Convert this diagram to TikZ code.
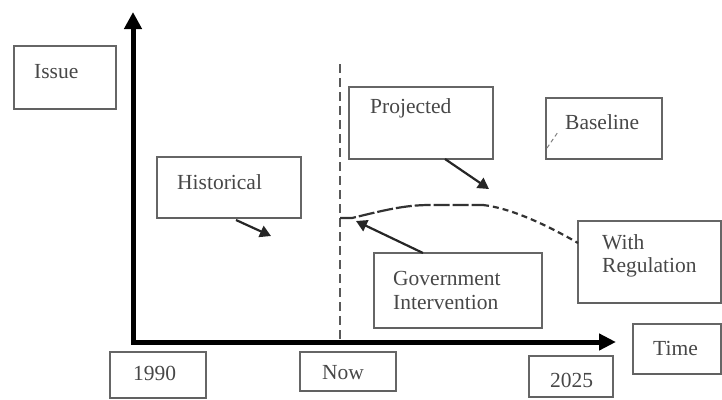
\documentclass[tikz,border=0pt]{standalone}
\usepackage{fontspec}
\setmainfont{Liberation Serif}
\usetikzlibrary{arrows.meta}
\begin{document}
\begin{tikzpicture}[x=1pt,y=-1pt,
  box/.style={draw=black!60, line width=1.3pt, inner sep=0pt, outer sep=0pt, anchor=north west},
  lbl/.style={anchor=west, inner sep=0pt, text=black!72, font=\fontsize{21.5}{25}\selectfont},
  axis/.style={line width=5pt, line join=miter, black},
  ptr/.style={line width=2.2pt, black!85, -{Triangle[length=11pt,width=12pt]}},
  curvelong/.style={line width=2.2pt, black!80, dash pattern=on 16pt off 3pt},
  curveshort/.style={line width=2.2pt, black!80, dash pattern=on 6pt off 4pt}]
\useasboundingbox (0,0) rectangle (722,399);
% boxes
\node[box, minimum width=102pt, minimum height=63pt] (issue) at (14,46) {};
\node[box, minimum width=144pt, minimum height=61pt] (hist) at (157,157) {};
\node[box, minimum width=144pt, minimum height=72pt] (proj) at (349,87) {};
\node[box, minimum width=116pt, minimum height=61pt] (base) at (546,98) {};
\node[box, minimum width=143pt, minimum height=82pt] (wreg) at (578,221) {};
\node[box, minimum width=168pt, minimum height=75pt] (gov) at (374,253) {};
\node[box, minimum width=88pt, minimum height=50pt] (time) at (633,324) {};
\node[box, minimum width=96pt, minimum height=46pt] (ya) at (110,352) {};
\node[box, minimum width=96pt, minimum height=39pt] (now) at (300,352) {};
\node[box, minimum width=84pt, minimum height=41pt] (yb) at (529,356) {};
% heavier bottom edges
\foreach \n in {issue,hist,proj,base,wreg,gov,time,ya,now,yb}
  \draw[line width=2.8pt, black!62] (\n.south west) -- (\n.south east);
% labels
\node[lbl] (tissue) at (34,72) {Issue};
\node[lbl] (thist) at (177,182) {Historical};
\node[lbl] (tproj) at (370,108) {Projected};
\node[lbl] (tbase) at (565,122) {Baseline};
\node[lbl] (tgov1) at (393,278) {Government};
\node[lbl] (tgov2) at (393,302) {Intervention};
\node[lbl] (twr1) at (602,242) {With};
\node[lbl] (twr2) at (602,267) {Regulation};
\node[lbl] (ttime) at (653,348) {Time};
\node[lbl] (tya) at (133,373) {1990};
\node[lbl] (tnow) at (322,373) {Now};
\node[lbl] (tyb) at (550,380) {2025};
% axes
\coordinate (ytop) at (133,12);
\coordinate (orig) at (133,342);
\coordinate (xend) at (616,342);
\draw[axis, {Triangle[length=17pt,width=17pt]}-{Triangle[length=17pt,width=16pt]}] (ytop) -- (orig) -- (xend);
% now dashed line
\coordinate (dtop) at (340,64);
\coordinate (dbot) at (340,340);
\draw[line width=2pt, black!65, dash pattern=on 9pt off 5pt] (dtop) -- (dbot);
% curve
\coordinate (c0) at (340,218);
\coordinate (c1) at (483,205);
\coordinate (c2) at (578,243);
\draw[curvelong] (c0) -- (352,218) .. controls (385,210) and (405,205) .. (430,205) -- (c1);
\draw[curveshort] (c1) .. controls (510,208) and (545,224) .. (c2);
% baseline remnant
\coordinate (b0) at (547,148);
\coordinate (b1) at (558,132);
\draw[line width=1pt, black!50, dash pattern=on 4pt off 3pt] (b0) -- (b1);
% pointer arrows
\coordinate (h0) at (236,220);
\coordinate (h1) at (271,236);
\draw[ptr] (h0) -- (h1);
\coordinate (p0) at (445,159);
\coordinate (p1) at (489,189);
\draw[ptr] (p0) -- (p1);
\coordinate (g0) at (423,253);
\coordinate (g1) at (356,221);
\draw[ptr] (g0) -- (g1);
\end{tikzpicture}
\end{document}
